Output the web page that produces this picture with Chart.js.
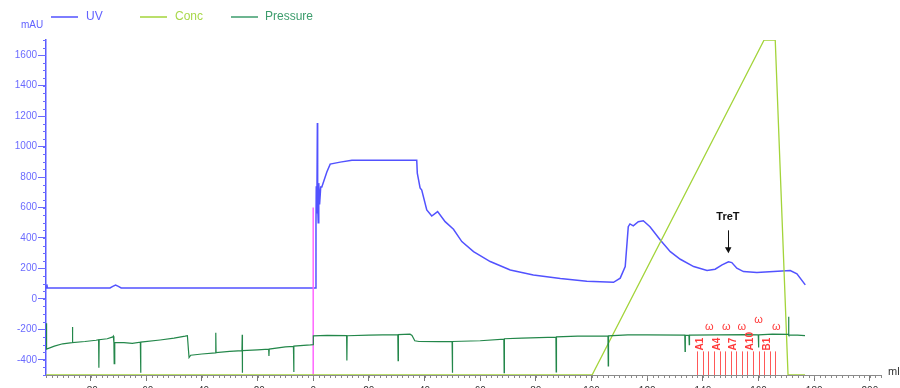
<!DOCTYPE html>
<html>
<head>
<meta charset="utf-8">
<script src="https://cdn.jsdelivr.net/npm/chart.js@4.4.0/dist/chart.umd.min.js"></script>
<style>
  html, body { margin: 0; padding: 0; background: #fff; }
  #wrap { width: 900px; height: 388px; overflow: hidden; }
</style>
</head>
<body>
<div id="wrap"><canvas id="myChart" width="900" height="388"></canvas></div>
<script>
// UV trace (ml, mAU)
var uvMl = [-96, -95.7, -95.5, -73, -72, -71, -70, -69, 0.9, 1.0, 1.1, 1.3, 1.5, 1.6, 1.8, 2.0, 2.3, 2.7,
  3.1, 4.9, 6.1, 9.7, 13.9, 37.2, 37.4, 38.4, 39.0, 40.8, 42.6, 44.7, 47.4, 50.4, 53.4, 57.6, 63.6, 70.8,
  79.1, 88.8, 98.3, 107.9, 110.3, 112.1, 113.2, 113.8, 115, 116.8, 118.6, 121, 124.7, 128.3, 131.9, 136.7,
  141.5, 144.4, 146.9, 149.2, 150.4, 152.2, 154.6, 159.4, 165.4, 171.4, 173.8, 176.8];
var uvMau = [72, 95, 72, 72, 82, 90, 82, 72, 72, 500, 740, 560, 1155, 620, 500, 760, 620, 734,
  734, 833, 885, 898, 911, 911, 826, 728, 715, 584, 544, 573, 507, 457, 376, 310, 245, 190,
  157, 133, 116, 109, 136, 212, 474, 492, 479, 507, 513, 474, 387, 310, 260, 212,
  186, 195, 223, 243, 238, 201, 179, 173, 179, 186, 164, 92];

// Conc (%B)
var concMl = [-96, 100.2, 162, 166, 170.6, 176.7];
var concPct = [0, 0, 100, 100, 0, 0];

// Pressure, plotted on the mAU scale
var pressureMl = [-96, -95.8, -93, -90, -86.6, -86.5, -86.4, -82, -78, -77.1, -77, -76.9, -74, -72, -71.8,
  -71.6, -71.5, -71.3, -68, -65, -62.1, -62, -61.9, -55, -50, -46, -45.2, -44.8, -44.6, -44, -40, -35.1,
  -35, -34.9, -30, -25.6, -25.5, -25.45, -25.4, -20, -16, -15.9, -15.8, -10, -7.1, -7, -6.9, -1, 0, 0.05,
  5, 12, 12.1, 12.2, 20, 25, 30.4, 30.5, 30.6, 34.8, 35.5, 36.5, 38, 45, 49.9, 50, 50.1, 60, 68.5, 68.6,
  68.7, 75, 87.2, 87.3, 87.4, 95, 105.9, 106, 106.1, 113, 120, 133.5, 133.6, 133.7, 135, 135.1, 135.2,
  145, 155, 159.9, 160, 160.1, 165, 170.7, 170.8, 170.9, 174, 176.7];
var pressureVal = [-160, -330, -310, -295, -288, -185, -287, -280, -272, -268, -452, -268, -262, -250, -245,
  -290, -426, -288, -288, -292, -285, -485, -284, -270, -258, -245, -242, -340, -385, -370, -362, -355,
  -223, -353, -345, -340, -235, -485, -340, -335, -330, -375, -330, -315, -312, -480, -310, -302, -300, -243,
  -240, -242, -405, -242, -238, -236, -235, -405, -235, -232, -240, -275, -280, -281, -281, -485, -280, -275, -265, -485,
  -262, -258, -252, -480, -250, -245, -243, -440, -243, -236, -236, -238, -345, -238, -240, -300, -238,
  -237, -235, -236, -320, -236, -232, -233, -118, -238, -238, -242];

// injection mark
var injectMl = [0, 0];
var injectMau = [-500, 600];

// fractions
var fractionEdges = [138, 140, 142, 144, 146, 148, 150, 152, 154, 156, 158, 160, 162, 164, 166];
var fractionNames = ['A1', 'A2', 'A3', 'A4', 'A5', 'A6', 'A7', 'A8', 'A9', 'A10', 'A11', 'A12', 'B1', 'B2'];
var wasteMarks = [142.3, 148.4, 154, 160, 166.4];

// peak annotation
var peakNames = ['TreT'];
var peakMl = [149];

// axis ticks
var xTicks = [-80, -60, -40, -20, 0, 20, 40, 60, 80, 100, 120, 140, 160, 180, 200];
var yTicks = [-400, -200, 0, 200, 400, 600, 800, 1000, 1200, 1400, 1600];

function zip(xs, ys) {
  var out = [];
  for (var i = 0; i < xs.length; i++) out.push({x: xs[i], y: ys[i]});
  return out;
}

var UV_COL = '#5252ff';
var CONC_COL = '#a3d43a';
var PRES_COL = '#23874a';

var decorations = {
  id: 'decorations',
  afterDatasetsDraw: function(chart) {
    var ctx = chart.ctx, xs = chart.scales.x, ys = chart.scales.y;
    var bottom = chart.chartArea.bottom;
    var top = ys.getPixelForValue(-345);
    ctx.save();
    // fraction lines
    ctx.strokeStyle = 'rgba(255,70,70,0.9)';
    ctx.lineWidth = 1;
    fractionEdges.forEach(function(v) {
      var px = Math.round(xs.getPixelForValue(v)) + 0.5;
      ctx.beginPath(); ctx.moveTo(px, top); ctx.lineTo(px, bottom); ctx.stroke();
    });
    ctx.fillStyle = '#ff3a3a';
    ctx.font = 'bold 10px Arial';
    ctx.textAlign = 'left';
    ctx.textBaseline = 'middle';
    fractionNames.forEach(function(name, i) {
      if (i % 3 !== 0) return;
      var cx = xs.getPixelForValue((fractionEdges[i] + fractionEdges[i + 1]) / 2);
      ctx.save();
      ctx.translate(cx, top - 1);
      ctx.rotate(-Math.PI / 2);
      ctx.fillText(name, 0, 0);
      ctx.restore();
    });
    ctx.font = '11px Arial';
    ctx.textAlign = 'center';
    wasteMarks.forEach(function(v, i) {
      var yy = i === 3 ? 320 : 327;
      ctx.fillText('\u03c9', xs.getPixelForValue(v), yy);
    });
    // TreT
    peakNames.forEach(function(name, i) {
      var px = xs.getPixelForValue(peakMl[i]);
      ctx.fillStyle = '#111';
      ctx.font = 'bold 11px Arial';
      ctx.textAlign = 'center';
      ctx.fillText(name, px, ys.getPixelForValue(538));
      var y0 = ys.getPixelForValue(450), y1 = ys.getPixelForValue(300);
      ctx.strokeStyle = '#111';
      ctx.lineWidth = 1;
      ctx.beginPath(); ctx.moveTo(Math.round(px) + 0.5, y0); ctx.lineTo(Math.round(px) + 0.5, y1 - 5); ctx.stroke();
      ctx.beginPath();
      ctx.moveTo(px - 3, y1 - 6); ctx.lineTo(px + 3.5, y1 - 6); ctx.lineTo(px + 0.5, y1); ctx.closePath();
      ctx.fill();
    });
    ctx.restore();
  },
  afterDraw: function(chart) {
    var ctx = chart.ctx, xs = chart.scales.x, ys = chart.scales.y;
    var area = chart.chartArea;
    ctx.save();
    // minor ticks
    ctx.lineWidth = 1;
    ctx.strokeStyle = '#8a8a8a';
    for (var v = -96; v <= 204; v += 2) {
      var px = Math.round(xs.getPixelForValue(v)) + 0.5;
      ctx.beginPath(); ctx.moveTo(px, area.bottom); ctx.lineTo(px, area.bottom + 3); ctx.stroke();
    }
    ctx.strokeStyle = '#6a6aff';
    for (var w = -500; w <= 1700; w += 50) {
      var py = Math.round(ys.getPixelForValue(w)) + 0.5;
      ctx.beginPath(); ctx.moveTo(area.left - 3, py); ctx.lineTo(area.left, py); ctx.stroke();
    }
    // legend
    var items = [
      {t: 'UV', c: UV_COL, tc: '#6262ff', x: 51},
      {t: 'Conc', c: CONC_COL, tc: '#a8d84a', x: 140},
      {t: 'Pressure', c: '#3c9c6c', tc: '#3c9c6c', x: 231}
    ];
    ctx.font = '12px Arial';
    ctx.textBaseline = 'middle';
    ctx.textAlign = 'left';
    items.forEach(function(it) {
      ctx.strokeStyle = it.c;
      ctx.lineWidth = 1.5;
      ctx.beginPath(); ctx.moveTo(it.x, 17); ctx.lineTo(it.x + 27, 17); ctx.stroke();
      ctx.fillStyle = it.tc;
      ctx.fillText(it.t, it.x + (it.t === 'Pressure' ? 34 : 35), 17);
    });
    ctx.font = '10px Arial';
    ctx.fillStyle = '#6262ff';
    ctx.fillText('mAU', 21, 25);
    ctx.fillStyle = '#333';
    ctx.font = '11px Arial';
    ctx.fillText('ml', 888, 372);
    ctx.restore();
  }
};

var ctx = document.getElementById('myChart');
var myChart = new Chart(ctx, {
  type: 'line',
  data: {
    datasets: [
      {label: 'Pressure', data: zip(pressureMl, pressureVal), borderColor: PRES_COL, borderWidth: 1.2, yAxisID: 'y'},
      {label: 'Conc', data: zip(concMl, concPct), borderColor: CONC_COL, borderWidth: 1.3, yAxisID: 'y2'},
      {label: 'Inject', data: zip(injectMl, injectMau), borderColor: '#ff66ff', borderWidth: 1.5, yAxisID: 'y'},
      {label: 'UV', data: zip(uvMl, uvMau), borderColor: UV_COL, borderWidth: 1.5, yAxisID: 'y'}
    ]
  },
  options: {
    responsive: false,
    animation: false,
    devicePixelRatio: 1,
    layout: {padding: {top: 40, right: 19, left: 0, bottom: 0}},
    elements: {point: {radius: 0}, line: {tension: 0}},
    plugins: {legend: {display: false}, tooltip: {enabled: false}},
    scales: {
      x: {
        type: 'linear', min: -96, max: 204,
        afterFit: function(s) { s.height = 13; },
        afterBuildTicks: function(s) { s.ticks = xTicks.map(function(v) { return {value: v}; }); },
        border: {color: '#8a8a8a'},
        grid: {drawOnChartArea: false, tickLength: 6, tickColor: '#777'},
        ticks: {autoSkip: false, maxRotation: 0, padding: 4, color: '#333',
          font: {family: 'Arial', size: 10},
          callback: function(v) { return String(v); }}
      },
      y: {
        min: -500, max: 1700,
        afterFit: function(s) { s.width = 46; },
        afterBuildTicks: function(s) { s.ticks = yTicks.map(function(v) { return {value: v}; }); },
        border: {color: '#5a5aff', width: 1.5},
        grid: {drawOnChartArea: false, tickLength: 8, tickColor: '#6a6aff'},
        ticks: {padding: 1, color: '#6b6bff', font: {family: 'Arial', size: 10},
          callback: function(v) { return String(v); }}
      },
      y2: {display: false, min: 0, max: 100}
    }
  },
  plugins: [decorations]
});
</script>
</body>
</html>
